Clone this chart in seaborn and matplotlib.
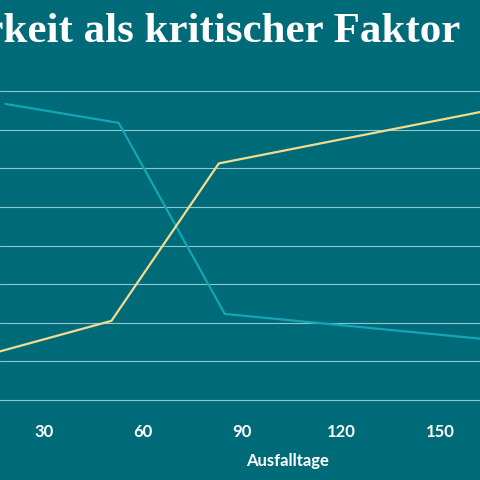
import matplotlib
matplotlib.use("Agg")
import matplotlib.pyplot as plt
import seaborn as sns
import pandas as pd

blue_x = [18.5, 52.7, 84.8, 162]
blue_y = [76.7, 71.8, 22.3, 15.9]
yellow_x = [16.8, 50.5, 83.0, 162]
yellow_y = [12.6, 20.5, 61.3, 74.6]
xticks = [30, 60, 90, 120, 150]

bg = "#006b78"
sns.set_style("white")
plt.rcParams['font.family'] = ['Lato', 'DejaVu Sans']
fig = plt.figure(figsize=(4.8, 4.8), dpi=100, facecolor=bg)
ax = fig.add_axes([0, 80/480, 1, 330/480], facecolor=bg)

df_b = pd.DataFrame({"x": blue_x, "y": blue_y})
df_y = pd.DataFrame({"x": yellow_x, "y": yellow_y})
sns.lineplot(data=df_b, x="x", y="y", ax=ax, color="#13a5b8", lw=1.6)
sns.lineplot(data=df_y, x="x", y="y", ax=ax, color="#f1dc8f", lw=1.6)

ax.set_xlim(16.8, 162)
ax.set_ylim(0, 85.5)
ax.set_yticks(range(10, 90, 10))
ax.yaxis.grid(True, color="#8fc8d0", lw=0.8)
ax.set_axisbelow(True)
for s in ["top", "right", "left"]:
    ax.spines[s].set_visible(False)
ax.spines["bottom"].set_color("#8fc8d0")
ax.spines["bottom"].set_linewidth(0.8)
ax.tick_params(axis="y", left=False, labelleft=False)
ax.set_xticks(xticks)
ax.tick_params(axis="x", colors="#8fc8d0", length=12, width=0.8, direction="inout", pad=11)
for t in ax.get_xticklabels():
    t.set_color("white"); t.set_fontweight("bold"); t.set_fontsize(12)
ax.set_xlabel("Ausfalltage", color="white", fontweight="bold", fontsize=12)
ax.xaxis.set_label_coords(0.6, -0.16)
ax.set_ylabel("")

fig.text(460/480, 1 - 32/480, "Verfügbarkeit als kritischer Faktor", ha="right", va="center",
         color="white", fontsize=31, fontweight="bold", family=["Liberation Serif", "DejaVu Serif"])
fig.savefig("out.png", dpi=100, facecolor=bg)
